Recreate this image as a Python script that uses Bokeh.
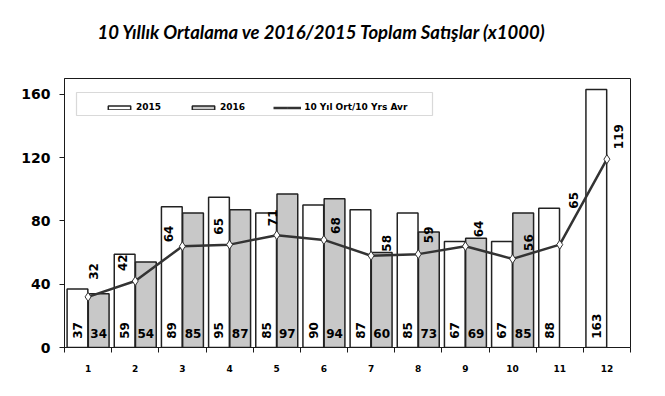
import math
from bokeh.plotting import figure
from bokeh.models import (ColumnDataSource, Range1d, FixedTicker, Legend, LegendItem,
                          BoxAnnotation, Title)
from bokeh.core.properties import value
from bokeh.embed import file_html
from bokeh.resources import INLINE

# ---- data ----
months = [1, 2, 3, 4, 5, 6, 7, 8, 9, 10, 11, 12]
month_labels = ["1", "2", "3", "4", "5", "6", "7", "8", "9", "10", "11", "12"]
sales_2015 = [37, 59, 89, 95, 85, 90, 87, 85, 67, 67, 88, 163]
sales_2016 = [34, 54, 85, 87, 97, 94, 60, 73, 69, 85]          # months 1..10
avg_10y = [32, 42, 64, 65, 71, 68, 58, 59, 64, 56, 65, 119]
y_ticks = [0, 40, 80, 120, 160]
title_text = "10 Yıllık Ortalama ve 2016/2015 Toplam Satışlar (x1000)"

# label placement (pixels) for the average-line labels
avg_label_dx = [5, -13, -14, -11, -4, 12, 15, 10, 13, 16, 14, 12]
avg_label_rise = [17, 10, 4, 10, 9, 6, 4, 11, 9, 8, 36, 10]

W, H = 657, 388
BL, BR, BT, BB = 64, 27, 78, 41
frame_w = W - BL - BR
frame_h = H - BT - BB
Y_MAX = 170

p = figure(width=W, height=H, output_backend="svg", toolbar_location=None,
           x_range=Range1d(0.5, 12.5), y_range=Range1d(0, Y_MAX),
           min_border_left=BL, min_border_right=BR, min_border_top=BT, min_border_bottom=BB)
p.background_fill_color = "white"
p.border_fill_color = "white"
p.outline_line_color = "#1a1a1a"
p.outline_line_width = 1
p.xgrid.visible = False
p.ygrid.visible = False

title_style = dict(align="left", text_font="Lato", text_font_style="bold italic",
                   text_font_size="18.5px", text_color="black", offset=33)
p.title = Title(text=title_text, standoff=0, **title_style)
# empty spacer panel between the title and the plot frame
p.add_layout(Title(text=" ", standoff=12, **title_style), "above")

BAR_W = 0.44
x15 = [m - 0.225 for m in months]
x16 = [m + 0.225 for m in months[:len(sales_2016)]]
src15 = ColumnDataSource(dict(x=x15, top=sales_2015, lab=[str(v) for v in sales_2015]))
src16 = ColumnDataSource(dict(x=x16, top=sales_2016, lab=[str(v) for v in sales_2016]))
srcavg = ColumnDataSource(dict(x=months, y=avg_10y, lab=[str(v) for v in avg_10y],
                               dx=avg_label_dx, dy=[-r for r in avg_label_rise]))

r15 = p.vbar(x="x", top="top", width=BAR_W, source=src15, fill_color="white",
             line_color="#222222", line_width=1.5)
r16 = p.vbar(x="x", top="top", width=BAR_W, source=src16, fill_color="#c8c8c8",
             line_color="#222222", line_width=1.5)
rl = p.line(x="x", y="y", source=srcavg, line_color="#333333", line_width=2.5)
rm = p.scatter(x="x", y="y", source=srcavg, marker="diamond", size=9,
               fill_color="white", line_color="#333333", line_width=1)

lab_font = value("DejaVu Sans")
p.text(x="x", y=5.5, text="lab", source=src15, angle=math.pi / 2,
       text_align="left", text_baseline="middle", text_font=lab_font,
       text_font_style="bold", text_font_size="12px", text_color="black")
p.text(x="x", y=8.9, text="lab", source=src16, angle=0,
       text_align="center", text_baseline="middle", text_font=lab_font,
       text_font_style="bold", text_font_size="12px", text_color="black")
p.text(x="x", y="y", x_offset="dx", y_offset="dy", text="lab", source=srcavg,
       angle=math.pi / 2, text_align="left", text_baseline="middle",
       text_font=lab_font, text_font_style="bold", text_font_size="12px",
       text_color="black")

# axes
yax = p.yaxis[0]
yax.ticker = FixedTicker(ticks=y_ticks)
yax.axis_line_color = "#1a1a1a"
yax.major_tick_out = 5
yax.major_tick_in = 0
yax.minor_tick_out = 0
yax.minor_tick_in = 0
yax.major_tick_line_color = "#1a1a1a"
yax.major_label_standoff = 9
yax.major_label_text_font = "DejaVu Sans"
yax.major_label_text_font_style = "bold"
yax.major_label_text_font_size = "14px"
yax.major_label_text_color = "black"

xax = p.xaxis[0]
xax.ticker = FixedTicker(ticks=months, minor_ticks=[m - 0.5 for m in months] + [12.5])
xax.major_label_overrides = {m: l for m, l in zip(months, month_labels)}
xax.axis_line_color = "#1a1a1a"
xax.major_tick_out = 0
xax.major_tick_in = 0
xax.minor_tick_out = 5
xax.minor_tick_in = 0
xax.minor_tick_line_color = "#1a1a1a"
xax.major_label_standoff = 12
xax.major_label_text_font = "DejaVu Sans"
xax.major_label_text_font_style = "bold"
xax.major_label_text_font_size = "9px"
xax.major_label_text_color = "black"

# legend frame box (drawn in data units from pixel layout)
ppx = frame_w / 12.0
ppy = frame_h / Y_MAX
box = BoxAnnotation(left=0.5 + 12 / ppx, right=0.5 + 368 / ppx,
                    top=Y_MAX - 14 / ppy, bottom=Y_MAX - 37 / ppy,
                    fill_color="white", fill_alpha=1.0,
                    line_color="#808080", line_width=1.2, level="overlay")
p.add_layout(box)

legend = Legend(items=[LegendItem(label="2015", renderers=[r15]),
                       LegendItem(label="2016", renderers=[r16]),
                       LegendItem(label="10 Yıl Ort/10 Yrs Avr", renderers=[rl, rm])],
                orientation="horizontal", location=(41, 235), padding=0, margin=0,
                spacing=28, glyph_width=28, glyph_height=5, label_standoff=3,
                label_text_font="DejaVu Sans", label_text_font_style="bold",
                label_text_font_size="9px", label_text_color="black",
                border_line_alpha=0, background_fill_alpha=0)
p.add_layout(legend)

open("out.html", "w").write(file_html(p, INLINE))
